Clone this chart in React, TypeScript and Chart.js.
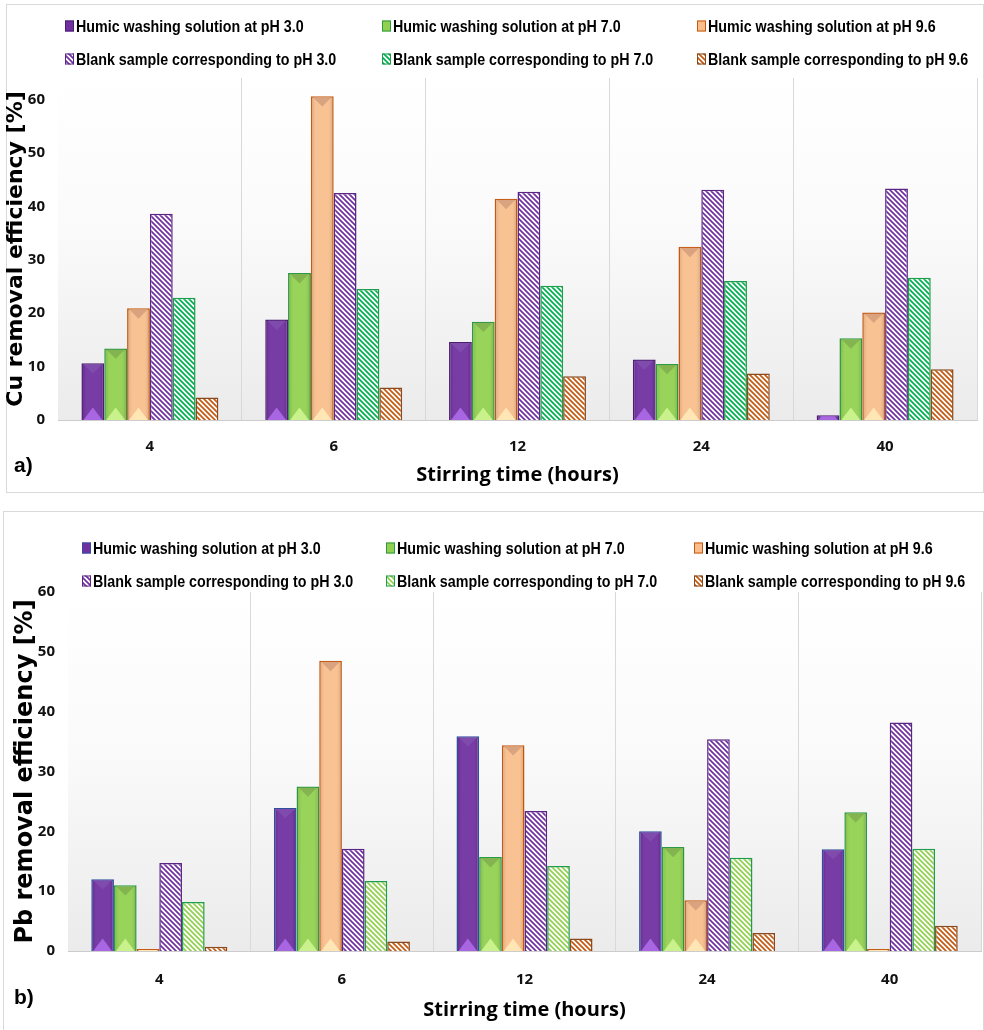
import React, { useEffect, useRef } from 'react';
import { Chart, registerables } from 'chart.js';

Chart.register(...registerables);

// ---------- data ----------
const categories = ['4', '6', '12', '24', '40'];
const seriesLabels = [
  'Humic washing solution at pH 3.0',
  'Humic washing solution at pH 7.0',
  'Humic washing solution at pH 9.6',
  'Blank sample corresponding to pH 3.0',
  'Blank sample corresponding to pH 7.0',
  'Blank sample corresponding to pH 9.6',
];

const cuHumic30 = [10.6, 18.8, 14.6, 11.3, 0.9];
const cuHumic70 = [13.4, 27.5, 18.4, 10.5, 15.3];
const cuHumic96 = [20.9, 60.6, 41.4, 32.4, 20.1];
const cuBlank30 = [38.6, 42.5, 42.7, 43.1, 43.3];
const cuBlank70 = [22.9, 24.5, 25.1, 26.0, 26.6];
const cuBlank96 = [4.2, 6.1, 8.2, 8.7, 9.5];

const pbHumic30 = [12.0, 23.9, 35.9, 20.0, 17.0];
const pbHumic70 = [11.0, 27.5, 15.7, 17.4, 23.2];
const pbHumic96 = [0, 48.5, 34.4, 8.5, 0];
const pbBlank30 = [14.7, 17.1, 23.4, 35.4, 38.2];
const pbBlank70 = [8.2, 11.7, 14.2, 15.6, 17.1];
const pbBlank96 = [0.7, 1.6, 2.1, 3.0, 4.2];

const yTicksCu = [0, 10, 20, 30, 40, 50, 60];
const yTicksPb = [0, 10, 20, 30, 40, 50, 60];

const xTitle = 'Stirring time (hours)';
const yTitleCu = 'Cu removal efficiency [%]';
const yTitlePb = 'Pb removal efficiency [%]';

// ---------- styling helpers ----------
const HUMANIST = '"Open Sans", Lato, sans-serif';
const WIDE = '"DejaVu Sans", Verdana, sans-serif';
const LEGEND_FONT = '"Liberation Sans", Arial, sans-serif';

function hatch(color: string, size = 5, lw = 1.7): CanvasPattern {
  const c = document.createElement('canvas');
  c.width = size;
  c.height = size;
  const g = c.getContext('2d')!;
  g.fillStyle = '#ffffff';
  g.fillRect(0, 0, size, size);
  g.strokeStyle = color;
  g.lineWidth = lw;
  g.beginPath();
  g.moveTo(-1, -1);
  g.lineTo(size + 1, size + 1);
  g.moveTo(-1, size - 1);
  g.lineTo(1, size + 1);
  g.moveTo(size - 1, -1);
  g.lineTo(size + 1, 1);
  g.stroke();
  return g.createPattern(c, 'repeat')!;
}

type Bevel = { top: string; bottom: string };

const bgPlugin = {
  id: 'plotBg',
  beforeDraw(chart: any) {
    const a = chart.chartArea;
    if (!a) return;
    const ctx = chart.ctx;
    const gr = ctx.createLinearGradient(0, a.top, 0, a.bottom);
    gr.addColorStop(0, '#ffffff');
    gr.addColorStop(0.45, '#fafafa');
    gr.addColorStop(1, '#ebebeb');
    ctx.save();
    ctx.fillStyle = gr;
    ctx.fillRect(a.left, a.top, a.right - a.left, a.bottom - a.top);
    ctx.restore();
  },
};

const bevelPlugin = {
  id: 'bevel',
  afterDatasetsDraw(chart: any) {
    const ctx = chart.ctx;
    chart.data.datasets.forEach((ds: any, i: number) => {
      const bevel: Bevel | undefined = ds.bevel;
      if (!bevel) return;
      const meta = chart.getDatasetMeta(i);
      meta.data.forEach((el: any) => {
        const { x, y, base, width } = el.getProps(['x', 'y', 'base', 'width'], true);
        const top = Math.min(y, base);
        const bot = Math.max(y, base);
        const h = bot - top;
        if (h < 0.5) return;
        const l = x - width / 2 + 1;
        const r = x + width / 2 - 1;
        const w = r - l;
        ctx.save();
        ctx.beginPath();
        ctx.rect(l, top + 1, w, h - 1);
        ctx.clip();
        const sg = ctx.createLinearGradient(l, 0, r, 0);
        sg.addColorStop(0, 'rgba(0,0,0,0.10)');
        sg.addColorStop(0.2, 'rgba(255,255,255,0.06)');
        sg.addColorStop(0.8, 'rgba(255,255,255,0.06)');
        sg.addColorStop(1, 'rgba(0,0,0,0.12)');
        ctx.fillStyle = sg;
        ctx.fillRect(l, top, w, h);
        ctx.fillStyle = bevel.top;
        ctx.beginPath();
        ctx.moveTo(l + 1, top + 1);
        ctx.lineTo(r - 1, top + 1);
        ctx.lineTo(x, top + w * 0.5);
        ctx.closePath();
        ctx.fill();
        ctx.fillStyle = bevel.bottom;
        ctx.beginPath();
        ctx.moveTo(l + 1, bot);
        ctx.lineTo(r - 1, bot);
        ctx.lineTo(x, bot - w * 0.6);
        ctx.closePath();
        ctx.fill();
        ctx.restore();
      });
    });
  },
};

const legendPlugin = {
  id: 'gridLegend',
  afterDraw(chart: any) {
    const o = chart.options.plugins.gridLegend;
    if (!o) return;
    const ctx = chart.ctx;
    ctx.save();
    ctx.font = `bold ${o.size}px ${LEGEND_FONT}`;
    ctx.textBaseline = 'middle';
    chart.data.datasets.forEach((ds: any, i: number) => {
      const cx = o.cols[i % 3];
      const cy = o.rows[Math.floor(i / 3)];
      const bw = 9;
      const bh = 11;
      ctx.fillStyle = ds.backgroundColor;
      ctx.fillRect(cx, cy - bh / 2, bw, bh);
      ctx.strokeStyle = ds.borderColor;
      ctx.lineWidth = 1;
      ctx.strokeRect(cx + 0.5, cy - bh / 2 + 0.5, bw - 1, bh - 1);
      ctx.save();
      ctx.translate(cx + bw + 2, cy + 1);
      ctx.scale(o.squeeze, 1);
      ctx.fillStyle = '#000';
      ctx.fillText(ds.label, 0, 0);
      ctx.restore();
    });
    ctx.restore();
  },
};

type PanelCfg = {
  values: number[][];
  yTicks: number[];
  yMax: number;
  yTitle: string;
  yTitleSize: number;
  yTitlePad: number;
  yWidth: number;
  xHeight: number;
  padTop: number;
  padRight: number;
  xTickPad: number;
  xTitlePad: number;
  legendCols: number[];
  legendRows: number[];
  purpleBorder: string;
  blankGreen: string;
  zeroMin: boolean;
};

function buildChart(canvas: HTMLCanvasElement, p: PanelCfg) {
  const colors = [
    { bg: '#7030A0', border: p.purpleBorder, bevel: { top: '#7f4cad', bottom: '#a966e2' } },
    { bg: '#92D050', border: '#2c9a45', bevel: { top: '#84b450', bottom: '#c9f28c' } },
    { bg: '#F9BE8C', border: '#C55A11', bevel: { top: '#d9a37f', bottom: '#ffe6b4' } },
    { bg: hatch('#7030A0'), border: '#5a2585' },
    { bg: hatch(p.blankGreen), border: '#1e9e4a' },
    { bg: hatch('#C55A11'), border: '#8a4a1e' },
  ];
  const datasets = p.values.map((vals, i) => ({
    label: seriesLabels[i],
    data: vals,
    backgroundColor: colors[i].bg,
    borderColor: colors[i].border,
    borderWidth: 1.5,
    bevel: (colors[i] as any).bevel,
    minBarLength: p.zeroMin && i === 2 ? 2 : 0,
  }));

  return new Chart(canvas, {
    type: 'bar',
    data: { labels: categories, datasets: datasets as any },
    plugins: [bgPlugin, bevelPlugin, legendPlugin],
    options: {
      responsive: false,
      animation: false,
      devicePixelRatio: 1,
      layout: { padding: { top: p.padTop, right: p.padRight, left: 0, bottom: 0 } },
      datasets: { bar: { categoryPercentage: 0.745, barPercentage: 1.0 } },
      plugins: {
        legend: { display: false },
        tooltip: { enabled: false },
        gridLegend: { cols: p.legendCols, rows: p.legendRows, size: 17, squeeze: 0.84 },
      } as any,
      scales: {
        x: {
          grid: {
            display: true,
            offset: true,
            drawTicks: false,
            color: (c: any) => (c.index === 0 ? 'rgba(0,0,0,0)' : '#d9d9d9'),
            lineWidth: 1,
          },
          border: { display: true, color: '#cccccc', width: 1 },
          ticks: {
            padding: p.xTickPad,
            color: '#111',
            font: { family: HUMANIST, weight: 'bold', size: 15 },
          },
          title: {
            display: true,
            text: xTitle,
            color: '#000',
            font: { family: HUMANIST, weight: 'bold', size: 20 },
            padding: { top: 0, bottom: p.xTitlePad },
          },
          afterFit: (s: any) => {
            s.height = p.xHeight;
          },
        },
        y: {
          min: 0,
          max: p.yMax,
          grid: { display: false, drawTicks: false },
          border: { display: false },
          ticks: {
            padding: 13,
            color: '#111',
            font: { family: HUMANIST, weight: 'bold', size: 15 },
          },
          afterBuildTicks: (s: any) => {
            s.ticks = p.yTicks.map((v) => ({ value: v }));
          },
          title: {
            display: true,
            text: p.yTitle,
            color: '#000',
            font: { family: WIDE, weight: 'bold', size: p.yTitleSize },
            padding: { top: p.yTitlePad, bottom: 0 },
          },
          afterFit: (s: any) => {
            s.width = p.yWidth;
          },
        },
      },
    } as any,
  });
}

const W = 984;
const HA = 497;
const HB = 530;

export default function App() {
  const refA = useRef<HTMLCanvasElement>(null);
  const refB = useRef<HTMLCanvasElement>(null);

  useEffect(() => {
    const a = buildChart(refA.current!, {
      values: [cuHumic30, cuHumic70, cuHumic96, cuBlank30, cuBlank70, cuBlank96],
      yTicks: yTicksCu,
      yMax: 64,
      yTitle: yTitleCu,
      yTitleSize: 22,
      yTitlePad: 3,
      yWidth: 58,
      xHeight: 77,
      padTop: 78,
      padRight: 7,
      xTickPad: 18,
      xTitlePad: 10,
      legendCols: [65, 382, 697],
      legendRows: [26, 59],
      purpleBorder: '#4b1f70',
      blankGreen: '#00B050',
      zeroMin: false,
    });
    const b = buildChart(refB.current!, {
      values: [pbHumic30, pbHumic70, pbHumic96, pbBlank30, pbBlank70, pbBlank96],
      yTicks: yTicksPb,
      yMax: 60,
      yTitle: yTitlePb,
      yTitleSize: 24,
      yTitlePad: 11,
      yWidth: 68,
      xHeight: 79,
      padTop: 92,
      padRight: 3,
      xTickPad: 20,
      xTitlePad: 8,
      legendCols: [82, 386, 694],
      legendRows: [48, 81],
      purpleBorder: '#2f4f9e',
      blankGreen: '#92D050',
      zeroMin: true,
    });
    return () => {
      a.destroy();
      b.destroy();
    };
  }, []);

  const frame: React.CSSProperties = {
    position: 'absolute',
    border: '1px solid #d9d9d9',
    boxSizing: 'border-box',
  };
  const panelLabel: React.CSSProperties = {
    position: 'absolute',
    fontFamily: '"Liberation Sans", Arial, sans-serif',
    fontWeight: 'bold',
    fontSize: 21,
    lineHeight: '24px',
    color: '#000',
  };

  return (
    <div style={{ position: 'absolute', left: 0, top: 0, width: W, height: 1030, background: '#fff', overflow: 'hidden' }}>
      <div style={{ ...frame, left: 6, top: 4, width: 978, height: 489 }} />
      <div style={{ ...frame, left: 3, top: 511, width: 981, height: 530 }} />
      <canvas ref={refA} width={W} height={HA} style={{ position: 'absolute', left: 0, top: 0, width: W, height: HA }} />
      <canvas ref={refB} width={W} height={HB} style={{ position: 'absolute', left: 0, top: 500, width: W, height: HB }} />
      <div style={{ ...panelLabel, left: 14, top: 453 }}>a)</div>
      <div style={{ ...panelLabel, left: 14, top: 985 }}>b)</div>
    </div>
  );
}
